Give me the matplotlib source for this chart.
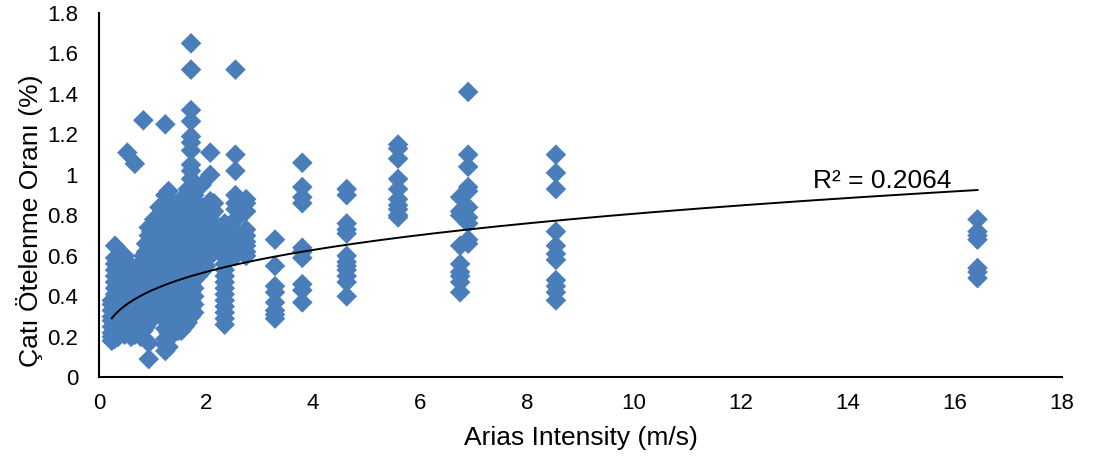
import numpy as np
import matplotlib
matplotlib.use("Agg")
from matplotlib import pyplot as plt

plt.rcParams['font.family'] = ['Liberation Sans', 'DejaVu Sans']

# x columns (Arias intensity, m/s) and the drift ratios read at each one
x_cols = [0.24, 0.30, 0.36, 0.42, 0.48, 0.53, 0.60, 0.67, 0.73, 0.78,
          0.83, 0.88, 0.93, 0.98, 1.03, 1.08, 1.13, 1.18, 1.24, 1.30,
          1.36, 1.42, 1.48, 1.54, 1.60, 1.66, 1.72, 1.78, 1.85, 1.92,
          2.00, 2.08, 2.15, 2.25, 2.35, 2.55, 2.75,
          3.29, 3.80, 4.63, 5.59, 6.75, 6.90, 8.54, 16.42]
y_cols = [
    [0.18, 0.20, 0.22, 0.25, 0.28, 0.30, 0.33, 0.36, 0.38],
    [0.19, 0.21, 0.24, 0.27, 0.30, 0.32, 0.35, 0.38, 0.41, 0.44, 0.47, 0.50, 0.53, 0.56, 0.59, 0.65],
    [0.20, 0.23, 0.26, 0.29, 0.32, 0.35, 0.38, 0.42, 0.45, 0.48, 0.52, 0.55, 0.58],
    [0.22, 0.25, 0.28, 0.31, 0.34, 0.37, 0.40, 0.44, 0.47, 0.50],
    [0.21, 0.24, 0.27, 0.30, 0.33, 0.36, 0.39, 0.42, 0.52, 0.56, 0.60],
    [0.22, 0.25, 0.28, 0.31, 0.34, 0.37, 0.40, 0.47, 0.53, 0.57, 1.11],
    [0.20, 0.23, 0.26, 0.29, 0.32, 0.35, 0.38, 0.41, 0.44, 0.50, 0.54],
    [0.21, 0.24, 0.27, 0.30, 0.33, 0.36, 0.40, 0.46, 0.52, 1.055],
    [0.22, 0.25, 0.28, 0.31, 0.34, 0.37, 0.41, 0.44, 0.48, 0.55],
    [0.20, 0.24, 0.27, 0.30, 0.33, 0.36, 0.39, 0.42, 0.47, 0.50, 0.53],
    [0.23, 0.26, 0.29, 0.32, 0.35, 0.38, 0.42, 0.46, 0.50, 0.55, 0.60, 1.27],
    [0.25, 0.28, 0.31, 0.34, 0.37, 0.40, 0.44, 0.48, 0.52, 0.56, 0.62, 0.66],
    [0.09, 0.17, 0.27, 0.30, 0.33, 0.36, 0.39, 0.43, 0.47, 0.51, 0.55, 0.60, 0.65, 0.70, 0.74],
    [0.30, 0.33, 0.36, 0.40, 0.44, 0.48, 0.52, 0.56, 0.60, 0.65, 0.69, 0.72],
    [0.32, 0.35, 0.38, 0.42, 0.46, 0.50, 0.54, 0.58, 0.62, 0.66, 0.70, 0.74, 0.78],
    [0.33, 0.37, 0.41, 0.45, 0.49, 0.53, 0.57, 0.61, 0.65, 0.69, 0.73, 0.77],
    [0.35, 0.39, 0.43, 0.47, 0.51, 0.55, 0.60, 0.64, 0.68, 0.72, 0.76, 0.80, 0.84],
    [0.30, 0.34, 0.38, 0.42, 0.46, 0.50, 0.54, 0.58, 0.62, 0.66, 0.70, 0.74, 0.78, 0.82],
    [0.13, 0.16, 0.19, 0.24, 0.28, 0.32, 0.36, 0.40, 0.44, 0.48, 0.52, 0.56, 0.60, 0.64, 0.68,
     0.72, 0.76, 0.80, 0.86, 0.90, 1.25],
    [0.15, 0.19, 0.22, 0.26, 0.30, 0.34, 0.38, 0.42, 0.46, 0.50, 0.54, 0.58, 0.62, 0.66, 0.70,
     0.74, 0.78, 0.82, 0.86, 0.92],
    [0.26, 0.30, 0.34, 0.38, 0.45, 0.50, 0.55, 0.60, 0.65, 0.70, 0.75, 0.80],
    [0.24, 0.28, 0.32, 0.36, 0.40, 0.46, 0.52, 0.58, 0.64, 0.70, 0.76],
    [0.23, 0.27, 0.31, 0.35, 0.39, 0.43, 0.50, 0.56, 0.62, 0.68, 0.74, 0.80, 0.86],
    [0.23, 0.26, 0.30, 0.34, 0.38, 0.42, 0.46, 0.52, 0.58, 0.64, 0.70, 0.76, 0.82, 0.88],
    [0.25, 0.28, 0.32, 0.36, 0.40, 0.44, 0.48, 0.54, 0.60, 0.66, 0.72, 0.78, 0.84],
    [0.27, 0.31, 0.35, 0.39, 0.43, 0.48, 0.53, 0.58, 0.63, 0.68, 0.73, 0.78, 0.83, 0.88, 0.93],
    [0.30, 0.34, 0.38, 0.42, 0.46, 0.50, 0.54, 0.58, 0.62, 0.66, 0.70, 0.74, 0.78, 0.82, 0.86,
     0.90, 0.94, 0.98, 1.02, 1.05, 1.12, 1.16, 1.19, 1.265, 1.32, 1.52, 1.65],
    [0.32, 0.36, 0.40, 0.44, 0.48, 0.52, 0.56, 0.60, 0.64, 0.68, 0.72, 0.76, 0.80, 0.85, 0.90],
    [0.50, 0.55, 0.60, 0.65, 0.70, 0.74, 0.78, 0.82],
    [0.52, 0.58, 0.64, 0.70, 0.74, 0.78, 0.84, 0.95],
    [0.55, 0.60, 0.66, 0.70, 0.74, 0.78, 0.82],
    [0.60, 0.65, 0.70, 0.72, 0.76, 0.80, 0.84, 0.87, 1.00, 1.11],
    [0.62, 0.68, 0.72, 0.76, 0.82, 0.86],
    [0.62, 0.66, 0.70, 0.74],
    [0.26, 0.29, 0.32, 0.35, 0.38, 0.41, 0.44, 0.47, 0.50, 0.53, 0.56, 0.60, 0.63, 0.66, 0.70,
     0.73, 0.76],
    [0.60, 0.62, 0.65, 0.67, 0.70, 0.72, 0.78, 0.83, 0.86, 0.90, 1.02, 1.10, 1.52],
    [0.60, 0.62, 0.65, 0.67, 0.70, 0.73, 0.82, 0.86, 0.88],
    [0.29, 0.31, 0.33, 0.37, 0.42, 0.45, 0.55, 0.68],
    [0.37, 0.43, 0.46, 0.59, 0.62, 0.64, 0.86, 0.89, 0.94, 1.06],
    [0.40, 0.47, 0.50, 0.53, 0.55, 0.57, 0.60, 0.71, 0.73, 0.76, 0.90, 0.93],
    [0.79, 0.80, 0.83, 0.85, 0.88, 0.93, 0.98, 1.08, 1.13, 1.15],
    [0.42, 0.47, 0.50, 0.52, 0.56, 0.65, 0.80, 0.82, 0.89],
    [0.66, 0.68, 0.76, 0.79, 0.84, 0.92, 0.94, 1.04, 1.10, 1.41],
    [0.38, 0.42, 0.45, 0.48, 0.58, 0.61, 0.65, 0.72, 0.93, 1.01, 1.10],
    [0.49, 0.52, 0.54, 0.68, 0.70, 0.72, 0.78],
]

# power trendline y = a * x^b
trend_a = 0.431
trend_b = 0.273
r2_text = "R² = 0.2064"

x = np.concatenate([[xc] * len(yc) for xc, yc in zip(x_cols, y_cols)])
y = np.concatenate(y_cols)

fig = plt.figure(figsize=(10.95, 4.59), dpi=100)
ax = fig.add_axes([0.0904, 0.178, 0.8795, 0.7937])

ax.scatter(x, y, marker='D', s=110, color='#4A7EBB', edgecolors='none', zorder=2)

xt = np.linspace(x.min(), x.max(), 300)
ax.plot(xt, trend_a * xt ** trend_b, color='black', lw=1.4, zorder=3)
ax.text(13.35, 0.937, r2_text, fontsize=19, ha='left', va='baseline')

ax.set_xlim(0, 18)
ax.set_ylim(0, 1.8)
ax.set_xticks(np.arange(0, 19, 2))
ax.set_yticks(np.arange(0, 1.81, 0.2))
ax.set_yticklabels([f"{v:g}" for v in np.arange(0, 1.81, 0.2).round(1)])
ax.tick_params(length=0, labelsize=16, pad=11)
ax.tick_params(axis='y', pad=15)

for side in ['top', 'right']:
    ax.spines[side].set_visible(False)
for side in ['left', 'bottom']:
    ax.spines[side].set_linewidth(1.5)

ax.set_xlabel("Arias Intensity (m/s)", fontsize=19, va='center')
ax.xaxis.set_label_coords(0.5, -0.167)
ax.set_ylabel("Çatı Ötelenme Oranı (%)", fontsize=19, va='center')
ax.yaxis.set_label_coords(-0.0717, 0.43)

fig.savefig("out.png", dpi=100)
